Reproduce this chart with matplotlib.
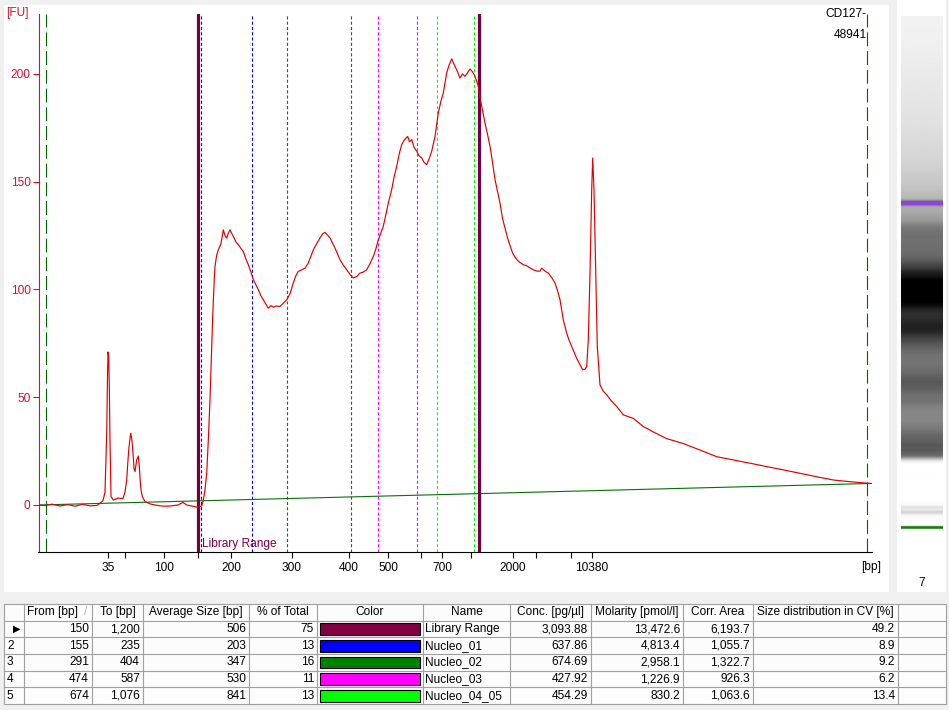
import numpy as np
import matplotlib.pyplot as plt
import matplotlib.transforms as mtransforms
from matplotlib.patches import Rectangle

plt.rcParams['font.family'] = ['Liberation Sans', 'DejaVu Sans']
plt.rcParams['font.size'] = 8.6
plt.rcParams['lines.scale_dashes'] = False

# ladder: fragment size [bp] -> migration time [s]
ladder_bp = [35, 50, 100, 150, 200, 300, 400, 500, 600, 700, 1000, 2000, 3000, 7000, 10380]
ladder_t = [30.8, 32.5, 36.4, 39.8, 43.1, 49.2, 54.9, 58.8, 62.1, 64.2, 67.1, 71.3, 73.6, 77.1, 79.2]
labeled_bp = [35, 100, 200, 300, 400, 500, 700, 2000, 10380]

# electropherogram, time [s] and fluorescence [FU]
trace_t = [23.8, 24.5, 25.2, 26.0, 26.8, 27.5, 28.2, 29.0, 29.7, 30.0, 30.3, 30.5,
           30.67, 30.75, 30.8, 30.87, 30.93, 31.0, 31.1, 31.33, 31.8, 32.3, 32.5, 32.67,
           32.8, 32.9, 33.07, 33.17, 33.27, 33.4, 33.5, 33.67, 33.83, 33.93, 34.0, 34.1,
           34.23, 34.5, 35.0, 35.5, 36.2, 37.0, 37.8, 38.3, 38.67, 39.2, 39.67, 40.17,
           40.33, 40.5, 40.67, 40.83, 41.0, 41.13, 41.27, 41.4, 41.5, 41.67, 41.83, 42.07,
           42.2, 42.33, 42.5, 42.67, 42.83, 43.0, 43.17, 43.33, 43.6, 43.83, 44.1, 44.33,
           44.6, 44.83, 45.1, 45.33, 45.6, 45.83, 46.1, 46.33, 46.6, 46.83, 47.1, 47.33,
           47.6, 48.0, 48.3, 48.67, 49.0, 49.33, 49.6, 49.83, 50.17, 50.5, 50.8, 51.1,
           51.33, 51.7, 52.0, 52.27, 52.5, 52.75, 53.0, 53.5, 54.0, 54.3, 54.67, 55.0,
           55.33, 55.67, 56.0, 56.3, 56.67, 57.0, 57.33, 57.6, 57.83, 58.33, 58.6, 58.83,
           59.17, 59.4, 59.67, 59.9, 60.17, 60.45, 60.77, 60.95, 61.17, 61.4, 61.67, 61.9,
           62.17, 62.4, 62.67, 62.9, 63.17, 63.5, 63.83, 64.1, 64.33, 64.67, 64.9, 65.17,
           65.5, 65.75, 66.0, 66.25, 66.5, 66.75, 67.0, 67.25, 67.5, 67.83, 68.0, 68.25,
           68.5, 68.75, 69.0, 69.25, 69.5, 69.75, 70.0, 70.25, 70.5, 70.75, 71.0, 71.25,
           71.5, 71.75, 72.0, 72.33, 72.67, 73.0, 73.33, 73.7, 74.0, 74.17, 74.5, 74.83,
           75.17, 75.5, 75.75, 76.0, 76.33, 76.67, 76.9, 77.17, 77.4, 77.67, 77.95, 78.27,
           78.5, 78.67, 78.83, 79.0, 79.17, 79.27, 79.4, 79.57, 79.73, 80.0, 80.3, 80.67,
           81.1, 81.67, 82.33, 83.33, 84.33, 85.33, 86.67, 88.33, 90.0, 91.67, 93.33, 95.0,
           96.67, 98.33, 100.0, 101.67, 103.33, 105.0, 107.0]
trace_fu = [0.0, -0.3, 0.4, -0.5, 0.2, -0.6, 0.3, -0.4, -0.2, 0.8, 2.0, 6.0,
            33, 60, 71, 69, 55, 30, 4, 2.3, 3.2, 3.0, 6, 11.6,
            21, 27, 33.3, 31, 26, 17, 15.5, 21, 22.7, 18, 12.6, 7,
            3.9, 1.6, 0.5, 0, -0.5, -0.5, 0, 1.2, 0, -0.5, -1, -0.5,
            2.3, 7, 14.7, 30, 48.8, 68, 87.5, 102, 110.7, 116, 118.4, 120.8,
            124, 127.7, 125, 123.8, 126, 127.7, 126, 124.6, 122, 120.8, 119, 117.6,
            114, 111.5, 108, 104.5, 102, 99.9, 97, 95.2, 93, 91.3, 92.5, 91.8,
            92.3, 92.1, 93.5, 95.2, 98, 103, 106.5, 108.4, 109.1, 109.9, 112, 115.5,
            118.4, 121.5, 123.9, 125.8, 126.5, 125.3, 123.9, 119.2, 113.8, 111.5, 109.1, 107,
            105.3, 106, 107.6, 108, 109.1, 112, 115.3, 119, 123, 129.3, 135, 140.1,
            146.3, 152, 157.1, 162.5, 167.2, 169.5, 171, 168.5, 169.5, 166, 164.1, 162,
            161, 159, 157.9, 160.5, 164.1, 171, 181.9, 187.5, 191.2, 200.5, 204, 207,
            203.6, 201, 198.1, 200, 198.9, 200.5, 202.3, 201, 198.9, 194.3, 188.9, 183,
            177.3, 172, 166.4, 159, 151, 145.5, 140.1, 133, 128.5, 124, 120.4, 117,
            115, 113.5, 112.5, 111.5, 111, 110, 109.1, 108.5, 108.5, 109.9, 108.5, 107.6,
            105.5, 103, 99.5, 95.2, 85.9, 79.7, 76.5, 73.5, 71, 68, 65.5, 62.7,
            63, 64.2, 76.6, 107.6, 146.3, 161, 146.3, 107.6, 73.5, 55.7, 53, 51.1,
            48.5, 45.7, 41.8, 40.2, 36.4, 33.9, 30.8, 28.5, 25.5, 22.4, 20.9, 19.4,
            17.8, 16.3, 14.7, 13.1, 11.6, 10.8, 10.0]
baseline_t = [23.85, 107.2]
baseline_fu = [0.0, 10.0]

t_min, t_max = 23.85, 107.2
analysis_start, analysis_end = 24.6, 106.7
lower_marker_t, upper_marker_t = 30.8, 79.27

sample_name = "CD127-\n48941"
lane_number = "7"

# region table
region_names = ["Library Range", "Nucleo_01", "Nucleo_02", "Nucleo_03", "Nucleo_04_05"]
region_from = [150, 155, 291, 474, 674]
region_to = [1200, 235, 404, 587, 1076]
region_avg = [506, 203, 347, 530, 841]
region_pct = [75, 13, 16, 11, 13]
region_colors = ['#800040', '#0000ff', '#008000', '#ff00ff', '#00ff00']
region_conc = [3093.88, 637.86, 674.69, 427.92, 454.29]
region_molarity = [13472.6, 4813.4, 2958.1, 1226.9, 830.2]
region_area = [6193.7, 1055.7, 1322.7, 926.3, 1063.6]
region_cv = [49.2, 8.9, 9.2, 6.2, 13.4]

RED = '#d8102a'
W, H = 949, 710

fig = plt.figure(figsize=(W / 100, H / 100), dpi=100, facecolor='#f0f0f0')

# window furniture (pixel coordinates, y downwards)
canvas = fig.add_axes([0, 0, 1, 1])
canvas.set_xlim(0, W)
canvas.set_ylim(H, 0)
canvas.axis('off')
canvas.add_patch(Rectangle((4, 5), 885, 587, facecolor='white', edgecolor='none'))
canvas.add_patch(Rectangle((897, 0), 49, 592, facecolor='white', edgecolor='none'))
canvas.text(6, 13, '[FU]', color=RED, ha='left', va='center')
canvas.text(871, 567, '[bp]', color='black', ha='center', va='center')
canvas.text(922, 583, lane_number, color='black', ha='center', va='center')

# ---- electropherogram
ax = fig.add_axes([38.5 / W, (H - 552.3) / H, 833.5 / W, 538.3 / H])
ax.set_facecolor('white')
ax.set_xlim(t_min, t_max)
ax.set_ylim(-21.95, 227.8)

for s in ['top', 'right']:
    ax.spines[s].set_visible(False)
ax.spines['left'].set_color(RED)
ax.spines['left'].set_linewidth(0.8)
ax.spines['bottom'].set_color('black')
ax.spines['bottom'].set_linewidth(0.8)

ax.set_yticks([0, 50, 100, 150, 200])
ax.tick_params(axis='y', colors=RED, length=4.3, width=0.8, pad=1.5)
tick_pos = np.interp(ladder_bp, ladder_bp, ladder_t)
ax.set_xticks(tick_pos)
ax.set_xticklabels([str(b) if b in labeled_bp else '' for b in ladder_bp])
ax.tick_params(axis='x', colors='black', length=4.3, width=0.8, pad=3)

# analysis window
for t in [analysis_start, analysis_end]:
    ax.axvline(t, color='#006400', lw=0.8, linestyle=(0, (10, 3.5)), zorder=1)

# region boundaries
for i in range(1, len(region_names)):
    for bp in [region_from[i], region_to[i]]:
        ax.axvline(np.interp(bp, ladder_bp, ladder_t), color=region_colors[i], lw=0.8,
                   linestyle=(0, (2.2, 1.6)), zorder=1)
for bp in [region_from[0], region_to[0]]:
    ax.axvline(np.interp(bp, ladder_bp, ladder_t), color='#700040', lw=2.3, zorder=3)

ax.annotate(region_names[0], xy=(np.interp(region_from[0], ladder_bp, ladder_t), 0),
            xycoords=mtransforms.blended_transform_factory(ax.transData, ax.transAxes),
            xytext=(3, 1.5), textcoords='offset points', color='#800040',
            ha='left', va='bottom')

ax.plot(baseline_t, baseline_fu, color='#0a6e0a', lw=0.8, zorder=2)
ax.plot(trace_t, trace_fu, color='#e00000', lw=0.85, zorder=4)

ax.annotate(sample_name, xy=(1, 1), xycoords='axes fraction', xytext=(-4, 4),
            textcoords='offset points', ha='right', va='top', linespacing=1.9)

# ---- gel lane
gax = fig.add_axes([901 / W, (H - 574) / H, 42 / W, 558 / H])
grid = np.linspace(t_min, t_max, 900)
gray = np.clip(1 - np.interp(grid, trace_t, trace_fu) / 195.0, 0, 1)
gax.imshow(gray[:, None], extent=[0, 1, t_min, t_max], origin='lower', aspect='auto',
           cmap='gray', vmin=0, vmax=1, interpolation='bilinear')
gax.axhline(upper_marker_t, color='#9040e0', lw=2.9)
gax.axhline(lower_marker_t, color='#108010', lw=1.8)
gax.set_xlim(0, 1)
gax.set_ylim(t_min, t_max)
gax.axis('off')

# ---- region table
col_edges = [4, 24, 92, 143, 249, 317, 423, 510, 591, 683, 753, 898, 946]
row_h = 16.67
top = 604
n_rows = len(region_names) + 1
canvas.add_patch(Rectangle((col_edges[0], top), col_edges[-1] - col_edges[0], row_h * n_rows,
                           facecolor='#fcfcfc', edgecolor='#a0a0a0', lw=0.8))
for x in col_edges[1:-1]:
    canvas.plot([x, x], [top, top + row_h * n_rows], color='#a0a0a0', lw=0.8)
for r in range(1, n_rows):
    canvas.plot([col_edges[0], col_edges[-1]], [top + r * row_h] * 2, color='#a0a0a0', lw=0.8)

headers = ["", "From [bp]", "To [bp]", "Average Size [bp]", "% of Total", "Color", "Name",
           "Conc. [pg/µl]", "Molarity [pmol/l]", "Corr. Area", "Size distribution in CV [%]", ""]
yc = top + row_h / 2
for j, h in enumerate(headers):
    if j == 1:
        canvas.text(col_edges[1] + 3, yc, h, ha='left', va='center')
        canvas.text(col_edges[2] - 6, yc, '/', ha='center', va='center', color='#b0b0b0')
    elif h:
        canvas.text((col_edges[j] + col_edges[j + 1]) / 2, yc, h, ha='center', va='center')

for i in range(len(region_names)):
    yc = top + (i + 1.5) * row_h
    if i == 0:
        canvas.text(17, yc, '▶', family='DejaVu Sans', fontsize=7, ha='center', va='center')
    else:
        canvas.text(7, yc, str(i + 1), ha='left', va='center')
    right_vals = {1: f"{region_from[i]:,}", 2: f"{region_to[i]:,}", 3: f"{region_avg[i]:,}",
                  4: f"{region_pct[i]}", 7: f"{region_conc[i]:,.2f}",
                  8: f"{region_molarity[i]:,.1f}", 9: f"{region_area[i]:,.1f}",
                  10: f"{region_cv[i]:.1f}"}
    for j, v in right_vals.items():
        canvas.text(col_edges[j + 1] - 3, yc, v, ha='right', va='center')
    canvas.add_patch(Rectangle((col_edges[5] + 3, top + (i + 1) * row_h + 2.5),
                               col_edges[6] - col_edges[5] - 6, row_h - 5,
                               facecolor=region_colors[i], edgecolor='black', lw=0.8))
    canvas.text(col_edges[6] + 2, yc, region_names[i], ha='left', va='center')

fig.savefig('out.png', dpi=100, facecolor=fig.get_facecolor())
